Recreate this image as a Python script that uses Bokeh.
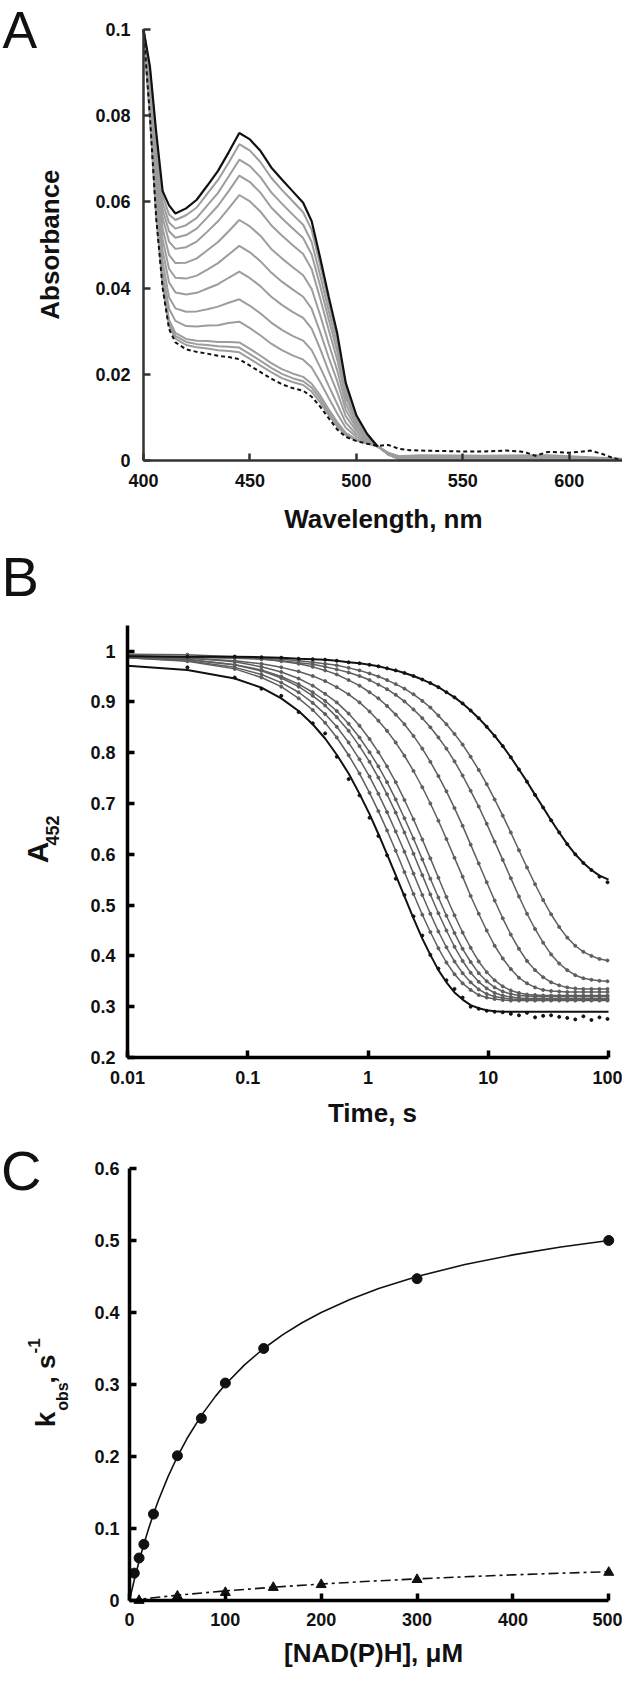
import math
from bokeh.plotting import figure
from bokeh.layouts import column
from bokeh.models import Range1d, FixedTicker, PrintfTickFormatter, Label
from bokeh.embed import file_html
from bokeh.resources import INLINE

FONT = "Liberation Sans"

# ---------------- Panel A : spectra ----------------
WL = [400, 403, 406, 409, 412, 415, 420, 425, 430, 435, 440, 445, 450, 455, 460,
      465, 470, 475, 479, 483, 487, 491, 495, 500, 505, 510]
TOP = [0.1000, 0.0915, 0.0760, 0.0625, 0.0592, 0.0573, 0.0585, 0.0605, 0.0638, 0.0672,
       0.0715, 0.0760, 0.0745, 0.0718, 0.0680, 0.0652, 0.0625, 0.0598, 0.0555, 0.0470,
       0.0380, 0.0295, 0.0180, 0.0105, 0.0062, 0.0032]
WL_D = [400, 403, 406, 409, 412, 415, 420, 425, 430, 435, 440, 445, 450, 455, 460,
        465, 470, 475, 479, 483, 487, 491, 495, 500, 505, 510, 515, 520, 525, 530,
        540, 550, 560, 570, 577, 580, 584, 590, 600, 605, 610, 615, 620, 625]
DASHED = [0.1000, 0.0800, 0.0560, 0.0400, 0.0305, 0.0274, 0.0258, 0.0252, 0.0248, 0.0243,
          0.0240, 0.0235, 0.0220, 0.0205, 0.0190, 0.0177, 0.0168, 0.0162, 0.0148, 0.0125,
          0.0098, 0.0072, 0.0055, 0.0045, 0.0039, 0.0034, 0.0036, 0.0027, 0.0024, 0.0023,
          0.0022, 0.0021, 0.0021, 0.0023, 0.0021, 0.0018, 0.0011, 0.0020, 0.0018, 0.0020,
          0.0023, 0.0016, 0.0007, 0.0000]
WL_G = WL + [515, 520, 530, 560, 590, 625]
GRAY = [
    [0.1000, 0.0909, 0.0750, 0.0614, 0.0571, 0.0558, 0.0569, 0.0587, 0.0619, 0.0651, 0.0691, 0.0734, 0.0719, 0.0692, 0.0656, 0.0628, 0.0602, 0.0576, 0.0535, 0.0453, 0.0366, 0.0284, 0.0174, 0.0102, 0.0061, 0.0033, 0.0018, 0.0010, 0.0012, 0.0011, 0.0012, 0.0004],
    [0.1000, 0.0901, 0.0736, 0.0598, 0.0552, 0.0538, 0.0546, 0.0563, 0.0592, 0.0621, 0.0659, 0.0698, 0.0683, 0.0657, 0.0622, 0.0596, 0.0571, 0.0547, 0.0507, 0.0429, 0.0347, 0.0269, 0.0165, 0.0098, 0.0059, 0.0033, 0.0017, 0.0009, 0.0010, 0.0009, 0.0010, 0.0003],
    [0.1000, 0.0893, 0.0722, 0.0582, 0.0532, 0.0517, 0.0523, 0.0538, 0.0564, 0.0591, 0.0625, 0.0661, 0.0646, 0.0621, 0.0587, 0.0562, 0.0539, 0.0516, 0.0478, 0.0405, 0.0327, 0.0253, 0.0156, 0.0094, 0.0058, 0.0033, 0.0017, 0.0008, 0.0009, 0.0008, 0.0009, 0.0003],
    [0.1000, 0.0883, 0.0705, 0.0563, 0.0508, 0.0491, 0.0495, 0.0508, 0.0531, 0.0555, 0.0585, 0.0616, 0.0601, 0.0577, 0.0546, 0.0522, 0.0500, 0.0479, 0.0444, 0.0376, 0.0303, 0.0234, 0.0146, 0.0089, 0.0056, 0.0033, 0.0016, 0.0007, 0.0008, 0.0007, 0.0008, 0.0003],
    [0.1000, 0.0871, 0.0683, 0.0538, 0.0477, 0.0458, 0.0459, 0.0469, 0.0488, 0.0507, 0.0532, 0.0558, 0.0543, 0.0521, 0.0491, 0.0469, 0.0449, 0.0430, 0.0398, 0.0337, 0.0271, 0.0209, 0.0132, 0.0082, 0.0053, 0.0033, 0.0016, 0.0006, 0.0007, 0.0006, 0.0007, 0.0002],
    [0.1000, 0.0858, 0.0660, 0.0513, 0.0445, 0.0424, 0.0422, 0.0429, 0.0443, 0.0458, 0.0478, 0.0498, 0.0483, 0.0462, 0.0436, 0.0415, 0.0397, 0.0380, 0.0352, 0.0298, 0.0239, 0.0184, 0.0118, 0.0075, 0.0051, 0.0033, 0.0015, 0.0005, 0.0006, 0.0005, 0.0006, 0.0002],
    [0.1000, 0.0845, 0.0637, 0.0487, 0.0413, 0.0390, 0.0385, 0.0389, 0.0399, 0.0409, 0.0424, 0.0438, 0.0423, 0.0404, 0.0380, 0.0361, 0.0345, 0.0331, 0.0306, 0.0259, 0.0207, 0.0158, 0.0103, 0.0068, 0.0048, 0.0033, 0.0015, 0.0005, 0.0005, 0.0005, 0.0005, 0.0002],
    [0.1000, 0.0831, 0.0613, 0.0460, 0.0379, 0.0353, 0.0345, 0.0346, 0.0351, 0.0357, 0.0366, 0.0374, 0.0359, 0.0341, 0.0320, 0.0303, 0.0289, 0.0278, 0.0256, 0.0216, 0.0173, 0.0131, 0.0088, 0.0061, 0.0045, 0.0033, 0.0014, 0.0004, 0.0004, 0.0004, 0.0004, 0.0001],
    [0.1000, 0.0819, 0.0593, 0.0437, 0.0352, 0.0324, 0.0312, 0.0311, 0.0313, 0.0314, 0.0319, 0.0322, 0.0307, 0.0290, 0.0271, 0.0256, 0.0244, 0.0234, 0.0216, 0.0182, 0.0145, 0.0109, 0.0076, 0.0055, 0.0043, 0.0033, 0.0014, 0.0004, 0.0003, 0.0003, 0.0003, 0.0001],
    [0.1000, 0.0809, 0.0575, 0.0417, 0.0326, 0.0296, 0.0282, 0.0278, 0.0277, 0.0275, 0.0275, 0.0274, 0.0259, 0.0243, 0.0226, 0.0212, 0.0202, 0.0194, 0.0178, 0.0151, 0.0119, 0.0089, 0.0064, 0.0049, 0.0041, 0.0033, 0.0014, 0.0004, 0.0003, 0.0003, 0.0003, 0.0001],
    [0.1000, 0.0806, 0.0570, 0.0411, 0.0319, 0.0289, 0.0275, 0.0270, 0.0268, 0.0265, 0.0264, 0.0262, 0.0247, 0.0231, 0.0215, 0.0201, 0.0191, 0.0184, 0.0169, 0.0143, 0.0112, 0.0083, 0.0061, 0.0048, 0.0040, 0.0033, 0.0014, 0.0004, 0.0003, 0.0003, 0.0003, 0.0001],
    [0.1000, 0.0803, 0.0566, 0.0407, 0.0313, 0.0283, 0.0268, 0.0263, 0.0260, 0.0256, 0.0254, 0.0251, 0.0236, 0.0220, 0.0205, 0.0191, 0.0182, 0.0175, 0.0160, 0.0135, 0.0106, 0.0079, 0.0059, 0.0047, 0.0040, 0.0033, 0.0014, 0.0004, 0.0003, 0.0003, 0.0003, 0.0001],
]
A_XTICKS = [400, 450, 500, 550, 600]
A_YTICKS = [0, 0.02, 0.04, 0.06, 0.08, 0.1]

# ---------------- Panel B : time courses (A452 in thousandths) ----------------
B_T = [0.01, 0.0315, 0.078, 0.13, 0.19, 0.265, 0.347, 0.44, 0.55, 0.69, 0.85, 1.03,
       1.22, 1.44, 1.70, 2.01, 2.39, 2.83, 3.30, 3.85, 4.49, 5.24, 6.12, 7.14, 8.33,
       9.71, 11.3, 13.2, 15.4, 18.0, 21.0, 24.5, 28.6, 33.3, 38.9, 45.4, 52.9, 61.8,
       72.1, 84.1, 98.1, 100]
B_FAST = [971, 963, 946, 928, 907, 882, 856, 828, 796, 759, 719, 679, 640, 600, 559, 517, 474, 434, 402, 372, 348, 328, 314, 303, 297, 293, 291, 290, 290, 290, 290, 290, 290, 290, 290, 290, 290, 290, 290, 290, 290, 290]
B_FAST_DOTS = [968, 948, 926, 912, 880, 858, 838, 792, 748, 716, 672, 636, 598, 552, 520, 478, 440, 402, 375, 352, 335, 318, 300, 296, 292, 290, 289, 286, 283, 288, 279, 282, 283, 280, 278, 275, 281, 274, 279, 276]
B_GRAY = [
    [987, 980, 965, 948, 930, 907, 884, 859, 830, 795, 759, 721, 685, 647, 607, 565, 522, 481, 447, 415, 387, 364, 346, 333, 323, 318, 315, 313, 312, 312, 312, 312, 312, 312, 312, 312, 312, 312, 312, 312, 312, 312],
    [987, 981, 968, 954, 938, 919, 898, 876, 851, 820, 787, 753, 719, 683, 645, 605, 562, 520, 483, 448, 417, 389, 366, 348, 334, 325, 320, 317, 315, 314, 314, 314, 314, 314, 314, 314, 314, 314, 314, 314, 314, 314],
    [990, 984, 973, 961, 947, 930, 912, 893, 870, 843, 813, 782, 751, 718, 682, 643, 601, 559, 521, 484, 450, 418, 390, 367, 349, 336, 327, 322, 319, 317, 316, 316, 316, 316, 316, 316, 316, 316, 316, 316, 316, 316],
    [988, 983, 973, 963, 950, 935, 919, 902, 882, 857, 830, 801, 773, 742, 708, 671, 631, 590, 552, 515, 479, 445, 414, 388, 366, 350, 338, 330, 325, 322, 321, 320, 320, 320, 320, 320, 320, 320, 320, 320, 320, 320],
    [991, 987, 979, 969, 959, 946, 932, 916, 899, 877, 853, 827, 801, 773, 742, 707, 669, 629, 592, 554, 516, 480, 446, 416, 389, 368, 352, 340, 332, 327, 324, 323, 322, 322, 322, 322, 322, 322, 322, 322, 322, 322],
    [989, 986, 981, 975, 968, 960, 951, 941, 929, 915, 899, 881, 863, 843, 820, 794, 764, 732, 700, 666, 630, 593, 556, 518, 483, 450, 420, 395, 374, 357, 346, 338, 333, 331, 330, 329, 329, 329, 329, 329, 329, 329],
    [994, 993, 989, 985, 980, 975, 969, 962, 954, 943, 932, 919, 907, 892, 875, 856, 833, 808, 782, 754, 724, 691, 656, 619, 582, 545, 509, 474, 442, 414, 390, 372, 358, 348, 342, 338, 336, 335, 335, 335, 335, 335],
    [990, 988, 986, 984, 981, 977, 974, 969, 964, 958, 951, 943, 934, 925, 914, 901, 885, 868, 850, 830, 808, 783, 755, 725, 694, 660, 625, 589, 553, 517, 483, 453, 426, 403, 385, 372, 362, 356, 353, 351, 350, 350],
    [990, 989, 987, 986, 984, 981, 978, 975, 972, 967, 962, 956, 950, 943, 935, 926, 915, 902, 889, 873, 856, 837, 816, 792, 766, 738, 708, 676, 643, 608, 574, 541, 510, 482, 457, 436, 420, 408, 400, 394, 391, 391],
]
B_SLOW = [990, 989, 989, 988, 987, 985, 984, 983, 981, 978, 976, 973, 970, 966, 962, 957, 951, 944, 937, 929, 919, 909, 897, 883, 868, 851, 833, 813, 791, 767, 743, 717, 692, 667, 643, 620, 600, 583, 569, 558, 551, 550]
B_SLOW_DOTS = [989, 989, 988, 987, 985, 984, 983, 981, 978, 976, 973, 970, 966, 962, 957, 951, 944, 937, 929, 919, 909, 897, 883, 868, 851, 833, 813, 791, 767, 743, 717, 692, 667, 643, 620, 600, 583, 569, 556, 545]
B_XTICKS = [0.01, 0.1, 1, 10, 100]
B_YTICKS = [0.2, 0.3, 0.4, 0.5, 0.6, 0.7, 0.8, 0.9, 1]

# ---------------- Panel C : kobs vs [NAD(P)H] ----------------
NADH_X = [5, 10, 15, 25, 50, 75, 100, 140, 300, 500]
NADH_K = [0.038, 0.059, 0.078, 0.120, 0.201, 0.253, 0.302, 0.350, 0.447, 0.500]
NADPH_X = [10, 50, 100, 150, 200, 300, 500]
NADPH_K = [0.000, 0.006, 0.011, 0.018, 0.022, 0.029, 0.039]
FIT1_X = [0, 2, 5, 10, 15, 20, 25, 30, 40, 50, 60, 75, 90, 100, 120, 140, 160, 180, 200,
          230, 260, 300, 350, 400, 450, 500]
FIT1_Y = [0, 0.0118, 0.0286, 0.0545, 0.0783, 0.1000, 0.1200, 0.1385, 0.1714, 0.2000,
          0.2250, 0.2571, 0.2842, 0.3000, 0.3273, 0.3500, 0.3692, 0.3857, 0.4000, 0.4182,
          0.4333, 0.4500, 0.4667, 0.4800, 0.4909, 0.5000]
FIT2_X = [0, 25, 50, 100, 150, 200, 250, 300, 350, 400, 450, 500]
FIT2_Y = [0, 0.0038, 0.0073, 0.0133, 0.0185, 0.0229, 0.0267, 0.0300, 0.0329, 0.0356,
          0.0379, 0.0400]
C_XTICKS = [0, 100, 200, 300, 400, 500]
C_YTICKS = [0, 0.1, 0.2, 0.3, 0.4, 0.5, 0.6]


def make_fig(h, xr, yr, log=False):
    p = figure(width=622, height=h, x_range=xr, y_range=yr, x_axis_type="log" if log else "linear",
               output_backend="svg", toolbar_location=None, title=None, min_border=0,
               min_border_left=0, min_border_right=0, min_border_top=0, min_border_bottom=0)
    p.grid.visible = False
    p.outline_line_color = None
    return p


def style(p, xticks, yticks, lw, color, xloc, yloc, xb, yb, xstand, ystand):
    for ax in p.axis:
        ax.axis_line_width = lw
        ax.axis_line_color = color
        ax.major_tick_line_width = lw
        ax.major_tick_line_color = color
        ax.major_tick_in = 7
        ax.major_tick_out = 0
        ax.minor_tick_line_color = None
        ax.major_label_text_font = FONT
        ax.major_label_text_font_style = "bold"
        ax.major_label_text_font_size = "18px"
        ax.major_label_text_color = "#111111"
        ax.formatter = PrintfTickFormatter(format="%g")
    p.xaxis.ticker = FixedTicker(ticks=xticks)
    p.yaxis.ticker = FixedTicker(ticks=yticks)
    p.xaxis.fixed_location = xloc
    p.yaxis.fixed_location = yloc
    p.xaxis.bounds = xb
    p.yaxis.bounds = yb
    p.xaxis.major_label_standoff = xstand
    p.yaxis.major_label_standoff = ystand


def lab(p, x, y, text, size, angle=0.0, align="left", bold=True):
    p.add_layout(Label(x=x, y=y, text=text, text_font=FONT, text_font_size=f"{size}px",
                       text_font_style="bold" if bold else "normal", angle=angle,
                       text_align=align, text_baseline="middle", text_color="#111111"))


# ---- A ----
pa = make_fig(540, Range1d(332.83, 625.0), Range1d(-0.018561, 0.106729))
style(pa, A_XTICKS, A_YTICKS, 2.5, "#333333", 0, 400, (400, 625), (0, 0.1), 13, 13)
for g in GRAY:
    pa.line(WL_G, g, line_color="#9d9d9d", line_width=2)
pa.line(WL, TOP, line_color="#111111", line_width=2.2)
pa.line(WL_D, DASHED, line_color="#111111", line_width=2, line_dash="4 3")
lab(pa, 333.8, 0.099875, "A", 52, bold=False)
lab(pa, 356.3, 0.0501, "Absorbance", 26, angle=math.pi / 2, align="center")
lab(pa, 512.7, -0.013457, "Wavelength, nm", 26, align="center")

# ---- B ----
pb = make_fig(588, Range1d(8.789e-4, 130.7), Range1d(0.06024, 1.21772), log=True)
style(pb, B_XTICKS, B_YTICKS, 3.5, "#000000", 0.2, 0.01, (0.01, 100), (0.2, 1.0504), 13, 12)
t_dots = B_T[1:-1]
for trace in B_GRAY:
    ys = [v / 1000 for v in trace]
    pb.line(B_T, ys, line_color="#5e5e5e", line_width=1.5)
    pb.scatter(t_dots, ys[1:-1], size=3, color="#5e5e5e")
for curve, dots in ((B_FAST, B_FAST_DOTS), (B_SLOW, B_SLOW_DOTS)):
    pb.line(B_T, [v / 1000 for v in curve], line_color="#111111", line_width=2.0)
    pb.scatter(t_dots, [v / 1000 for v in dots], size=3, color="#111111")
lab(pb, 8.96e-4, 1.14764, "B", 56, bold=False)
lab(pb, 0.001771, 0.6035, "A", 30, angle=math.pi / 2, align="center")
lab(pb, 0.002366, 0.6469, "452", 18, angle=math.pi / 2, align="center")
lab(pb, 1.09, 0.09173, "Time, s", 26, align="center")

# ---- C ----
pc = make_fig(540, Range1d(-134.59, 514.35), Range1d(-0.094444, 0.65556))
style(pc, C_XTICKS, C_YTICKS, 3.5, "#000000", 0, 0, (0, 500), (0, 0.6), 12, 10)
pc.line(FIT1_X, FIT1_Y, line_color="#111111", line_width=1.6)
pc.line(FIT2_X, FIT2_Y, line_color="#111111", line_width=1.6, line_dash="10 4 3 4")
pc.scatter(NADH_X, NADH_K, marker="circle", size=10, color="#111111")
pc.scatter(NADPH_X, NADPH_K, marker="triangle", size=10, color="#111111")
lab(pc, -134.06, 0.59778, "C", 56, bold=False)
lab(pc, -87.3, 0.25139, "k", 28, angle=math.pi / 2, align="center")
lab(pc, -69.4, 0.28333, "obs", 16, angle=math.pi / 2, align="center")
lab(pc, -86.6, 0.30139, ", s", 26, angle=math.pi / 2, align="left")
lab(pc, -99.9, 0.34306, "-1", 17, angle=math.pi / 2, align="left")
lab(pc, 254.6, -0.07361, "[NAD(P)H], \u03bcM", 26, align="center")

layout = column(pa, pb, pc)
open("out.html", "w").write(file_html(layout, INLINE))
